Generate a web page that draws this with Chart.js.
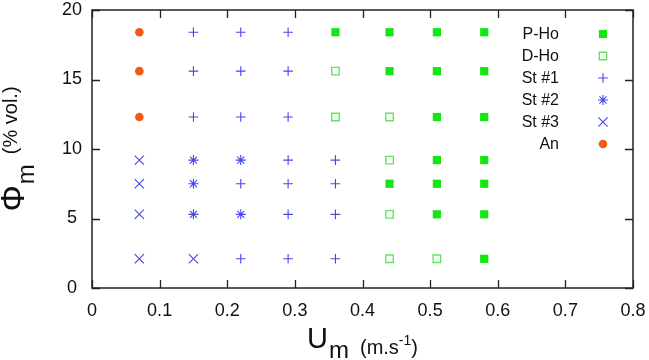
<!DOCTYPE html>
<html><head><meta charset="utf-8">
<script src="https://cdn.jsdelivr.net/npm/chart.js@4.4.1/dist/chart.umd.min.js"></script>
<style>html,body{margin:0;padding:0;background:#fff;}#wrap{width:649px;height:360px;}</style>
</head><body><div id="wrap"><canvas id="c" width="649" height="360"></canvas></div>
<script>
// ---- data ----
const xTickValues = [0, 0.1, 0.2, 0.3, 0.4, 0.5, 0.6, 0.7, 0.8];
const yTickValues = [0, 5, 10, 15, 20];
const seriesNames = ['P-Ho', 'D-Ho', 'St #1', 'St #2', 'St #3', 'An'];

const pHoU   = [0.36, 0.44, 0.44, 0.44, 0.51, 0.51, 0.51, 0.51, 0.51, 0.51, 0.58, 0.58, 0.58, 0.58, 0.58, 0.58, 0.58];
const pHoPhi = [18.4, 18.4, 15.6, 7.5, 18.4, 15.6, 12.3, 9.2, 7.5, 5.3, 18.4, 15.6, 12.3, 9.2, 7.5, 5.3, 2.1];

const dHoU   = [0.36, 0.36, 0.44, 0.44, 0.44, 0.44, 0.51];
const dHoPhi = [15.6, 12.3, 12.3, 9.2, 5.3, 2.1, 2.1];

const st1U   = [0.15, 0.15, 0.15, 0.22, 0.22, 0.22, 0.22, 0.22, 0.29, 0.29, 0.29, 0.29, 0.29, 0.29, 0.29, 0.36, 0.36, 0.36, 0.36];
const st1Phi = [18.4, 15.6, 12.3, 18.4, 15.6, 12.3, 7.5, 2.1, 18.4, 15.6, 12.3, 9.2, 7.5, 5.3, 2.1, 9.2, 7.5, 5.3, 2.1];

const st2U   = [0.15, 0.15, 0.15, 0.22, 0.22];
const st2Phi = [9.2, 7.5, 5.3, 9.2, 5.3];

const st3U   = [0.07, 0.07, 0.07, 0.07, 0.15];
const st3Phi = [9.2, 7.5, 5.3, 2.1, 2.1];

const anU    = [0.07, 0.07, 0.07];
const anPhi  = [18.4, 15.6, 12.3];

// ---- styles ----
const FONT = "'Liberation Sans', Arial, Helvetica, sans-serif";
const GREEN = '#14e614', GREEN_L = '#5fe85f', BLUE = '#4646ee', ORANGE = '#f25a14';
const pts = (xs, ys) => xs.map((x, i) => ({x: x, y: ys[i]}));

const datasets = [
  {label: seriesNames[0], data: pts(pHoU, pHoPhi), pointStyle: 'rect', pointRadius: 5.8, backgroundColor: GREEN, borderColor: GREEN, borderWidth: 0},
  {label: seriesNames[1], data: pts(dHoU, dHoPhi), pointStyle: 'rect', pointRadius: 5.3, backgroundColor: '#ffffff', borderColor: GREEN_L, borderWidth: 1.4},
  {label: seriesNames[2], data: pts(st1U, st1Phi), pointStyle: 'cross', pointRadius: 4.8, backgroundColor: BLUE, borderColor: BLUE, borderWidth: 1.1},
  {label: seriesNames[3], data: pts(st2U, st2Phi), pointStyle: 'star', pointRadius: 5, backgroundColor: BLUE, borderColor: BLUE, borderWidth: 1.1},
  {label: seriesNames[4], data: pts(st3U, st3Phi), pointStyle: 'crossRot', pointRadius: 6.5, backgroundColor: BLUE, borderColor: BLUE, borderWidth: 1.1},
  {label: seriesNames[5], data: pts(anU, anPhi), pointStyle: 'circle', pointRadius: 4.3, backgroundColor: ORANGE, borderColor: ORANGE, borderWidth: 0}
];
datasets.forEach(d => { d.pointHoverRadius = d.pointRadius; });

const AREA = {left: 92, top: 10, right: 633, bottom: 288};

const framePlugin = {
  id: 'frame',
  afterDraw(chart) {
    const ctx = chart.ctx, a = chart.chartArea, xs = chart.scales.x, ys = chart.scales.y;
    ctx.save();
    ctx.strokeStyle = '#222';
    ctx.lineWidth = 1.5;
    ctx.strokeRect(a.left, a.top, a.right - a.left, a.bottom - a.top);
    ctx.lineWidth = 1.3;
    const TL = 8;
    ctx.beginPath();
    xTickValues.forEach(v => {
      const px = Math.round(xs.getPixelForValue(v)) + 0.5;
      ctx.moveTo(px, a.bottom); ctx.lineTo(px, a.bottom - TL);
      ctx.moveTo(px, a.top); ctx.lineTo(px, a.top + TL);
    });
    yTickValues.forEach(v => {
      const py = Math.round(ys.getPixelForValue(v)) + 0.5;
      ctx.moveTo(a.left, py); ctx.lineTo(a.left + TL, py);
      ctx.moveTo(a.right, py); ctx.lineTo(a.right - TL, py);
    });
    ctx.stroke();

    // legend: text right aligned, marker to the right
    ctx.font = '16px ' + FONT;
    ctx.textAlign = 'right';
    ctx.textBaseline = 'middle';
    ctx.fillStyle = '#111';
    datasets.forEach((d, i) => {
      const y = 34 + i * 22;
      ctx.fillText(d.label, 559, y + 1);
      ctx.save();
      ctx.fillStyle = d.backgroundColor;
      ctx.strokeStyle = d.borderColor;
      ctx.lineWidth = d.borderWidth;
      Chart.helpers.drawPoint(ctx, {pointStyle: d.pointStyle, radius: d.pointRadius, rotation: 0, borderWidth: d.borderWidth}, 603, y);
      ctx.restore();
    });

    // x title: U_m (m.s^-1)
    ctx.textAlign = 'left';
    ctx.textBaseline = 'alphabetic';
    const xParts = [
      {t: 'U', f: 29, b: 348, g: 1},
      {t: 'm', f: 24, b: 358, g: 11},
      {t: '(m.s', f: 20, b: 354, g: 0},
      {t: '-1', f: 14, b: 345, g: 0},
      {t: ')', f: 20, b: 354, g: 0}
    ];
    let tot = 0;
    xParts.forEach(p => { ctx.font = p.f + 'px ' + FONT; p.w = ctx.measureText(p.t).width; tot += p.w + p.g; });
    tot -= xParts[xParts.length - 1].g;
    let cx = (a.left + a.right) / 2 - tot / 2;
    xParts.forEach(p => { ctx.font = p.f + 'px ' + FONT; ctx.fillText(p.t, cx, p.b); cx += p.w + p.g; });

    // y title: Phi_m (% vol.)  rotated
    const yParts = [
      {t: '\u03A6', f: 33, b: 24, g: 1},
      {t: 'm', f: 24, b: 34, g: 10},
      {t: '(% vol.)', f: 20, b: 17, g: 0}
    ];
    tot = 0;
    yParts.forEach(p => { ctx.font = p.f + 'px ' + FONT; p.w = ctx.measureText(p.t).width; tot += p.w + p.g; });
    tot -= yParts[yParts.length - 1].g;
    ctx.save();
    ctx.rotate(-Math.PI / 2);
    let sy = (a.top + a.bottom) / 2 + tot / 2;
    yParts.forEach(p => { ctx.font = p.f + 'px ' + FONT; ctx.fillText(p.t, -sy, p.b); sy -= p.w + p.g; });
    ctx.restore();
    ctx.restore();
  }
};

const noPad = s => { s.paddingTop = 0; s.paddingBottom = 0; s.paddingLeft = 0; s.paddingRight = 0; };

new Chart(document.getElementById('c'), {
  type: 'scatter',
  data: {datasets: datasets},
  options: {
    responsive: false,
    animation: false,
    devicePixelRatio: 1,
    layout: {padding: {top: AREA.top, right: 649 - AREA.right, left: 0, bottom: 0}},
    plugins: {legend: {display: false}, tooltip: {enabled: false}},
    scales: {
      x: {
        type: 'linear', min: 0, max: 0.8,
        afterBuildTicks: s => { s.ticks = xTickValues.map(v => ({value: v})); },
        ticks: {font: {size: 18, family: FONT}, color: '#111', padding: 12, maxRotation: 0,
                callback: v => String(Math.round(v * 10) / 10)},
        grid: {display: false, drawTicks: false},
        border: {display: false},
        afterFit: s => { s.height = 360 - AREA.bottom; noPad(s); }
      },
      y: {
        type: 'linear', min: 0, max: 20,
        afterBuildTicks: s => { s.ticks = yTickValues.map(v => ({value: v})); },
        ticks: {font: {size: 18, family: FONT}, color: '#111', padding: 10, crossAlign: 'center'},
        grid: {display: false, drawTicks: false},
        border: {display: false},
        afterFit: s => { s.width = AREA.left; noPad(s); }
      }
    }
  },
  plugins: [framePlugin]
});
</script>
</body></html>
